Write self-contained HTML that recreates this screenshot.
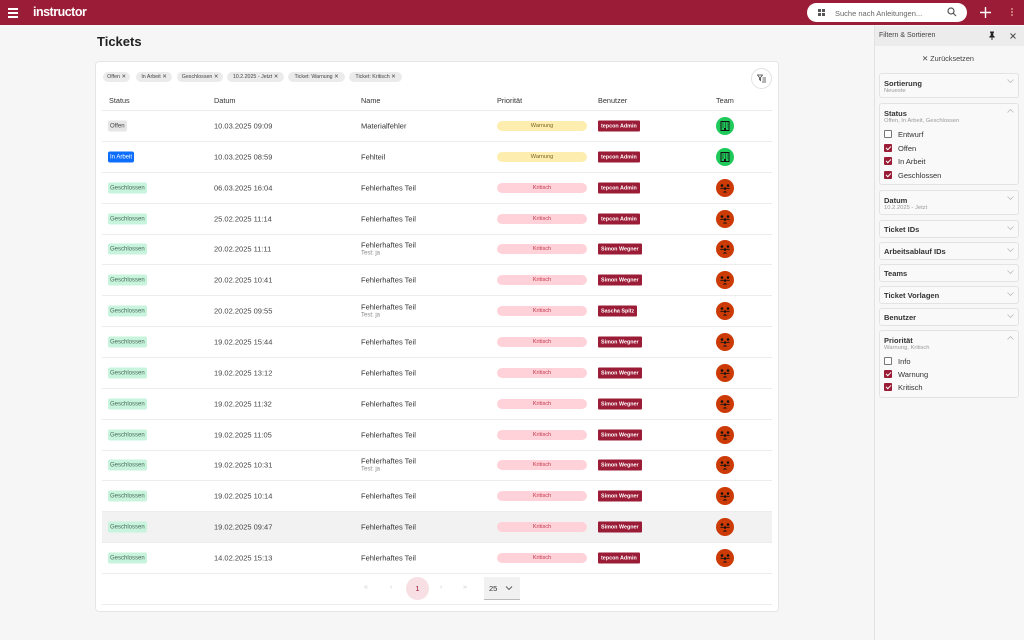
<!DOCTYPE html>
<html><head><meta charset="utf-8"><style>
*{box-sizing:border-box;margin:0;padding:0}
body{width:1024px;height:640px;overflow:hidden;background:#f6f6f6;font-family:"Liberation Sans",sans-serif;color:#333;position:relative}
.abs{position:absolute}
.top{left:0;top:0;width:1024px;height:25px;background:#9b1c36}
.card{left:95px;top:61px;width:684px;height:551px;background:#fff;border:1px solid #e6e6e6;border-radius:4px}
.chip{position:absolute;top:72px;height:10px;background:#ebebeb;border-radius:5px;font-size:5.3px;color:#444;display:flex;align-items:center;justify-content:center;white-space:nowrap}
.th{position:absolute;top:96px;font-size:7.3px;color:#333}
.row{position:absolute;left:102px;width:670px;height:31px;border-bottom:1px solid #ececec}
.row .c{position:absolute;top:50%;transform:translateY(-50%);white-space:nowrap}
.dt{left:112px;font-size:7.5px;color:#444}
.nm{left:259px;font-size:7.5px;color:#333;line-height:9px}
.nm small{display:block;font-size:6px;color:#888;line-height:8px}
.st{left:6px;height:11px;font-size:6px;padding:0 2px;border-radius:2px;display:flex;align-items:center}
.off{background:#e6e6e6;color:#444}
.arb{background:#0d6efd;color:#fff}
.ges{background:#c8f4dd;color:#4a6b58}
.pr{left:395px;width:90px;height:10px;border-radius:5px;font-size:5.6px;display:flex;align-items:center;justify-content:center}
.w{background:#fdeeb0;color:#7a6420}
.k{background:#ffd2da;color:#c2384a}
.us{left:496px;height:11px;background:#9b1c36;color:#fff;font-size:5.4px;font-weight:bold;padding:0 3px;border-radius:1px;display:flex;align-items:center}
.tm{left:614px;width:18px;height:18px;border-radius:50%}
.g{background:#1fca5a}
.r{background:#cc3a06}
.panel{left:874px;top:25px;width:150px;height:615px;background:#f7f7f7;border-left:1px solid #e2e2e2}
.sec{position:absolute;left:879px;width:140px;background:#f9f9f9;border:1px solid #e3e3e3;border-radius:3px}
.sec .t{position:absolute;left:4px;top:5px;font-size:7.5px;font-weight:bold;color:#333}
.sec .s{position:absolute;left:4px;top:14px;font-size:5.8px;color:#999;white-space:nowrap}
.sec svg{position:absolute;right:4px;top:5px}
.cb{position:absolute;left:884px;width:8px;height:8px;border:1px solid #777;border-radius:1px;background:#fff}
.cb.on{background:#9b1c36;border-color:#9b1c36}
.cb.on:after{content:"";position:absolute;left:2px;top:0px;width:2px;height:4px;border:solid #fff;border-width:0 1px 1px 0;transform:rotate(45deg)}
.cl{position:absolute;left:898px;font-size:7.5px;color:#333}
</style></head><body>
<div class="abs top"></div>
<!-- hamburger -->
<div class="abs" style="left:8px;top:8px;width:10px;height:1.5px;background:#fff"></div>
<div class="abs" style="left:8px;top:12px;width:10px;height:1.5px;background:#fff"></div>
<div class="abs" style="left:8px;top:16px;width:10px;height:1.5px;background:#fff"></div>
<div class="abs" style="left:33px;top:4.5px;font-size:12.5px;font-weight:bold;color:#fff;letter-spacing:-0.5px">instructor</div>
<!-- search -->
<div class="abs" style="left:807px;top:3px;width:160px;height:19px;background:#fff;border-radius:10px"></div>
<div class="abs" style="left:818px;top:9px;width:3px;height:3px;background:#555"></div>
<div class="abs" style="left:822px;top:9px;width:3px;height:3px;background:#555"></div>
<div class="abs" style="left:818px;top:13px;width:3px;height:3px;background:#555"></div>
<div class="abs" style="left:822px;top:13px;width:3px;height:3px;background:#555"></div>
<div class="abs" style="left:835px;top:8.5px;font-size:7.5px;color:#666">Suche nach Anleitungen...</div>
<svg class="abs" style="left:947px;top:7px" width="10" height="10"><circle cx="4" cy="4" r="3" fill="none" stroke="#555" stroke-width="1.2"/><line x1="6.2" y1="6.2" x2="9" y2="9" stroke="#555" stroke-width="1.2"/></svg>
<svg class="abs" style="left:980px;top:7px" width="11" height="11"><path d="M5.5 0v11M0 5.5h11" stroke="#fff" stroke-width="1.4"/></svg>
<div class="abs" style="left:1011px;top:8px;width:1.5px;height:1.5px;background:#c77;box-shadow:0 3px 0 #c77,0 6px 0 #c77"></div>

<div class="abs" style="left:97px;top:34px;font-size:13px;font-weight:bold;color:#222">Tickets</div>

<div class="abs card"></div>
<div class="chip" style="left:103px;width:27px">Offen ✕</div>
<div class="chip" style="left:136px;width:36px">In Arbeit ✕</div>
<div class="chip" style="left:177px;width:46px">Geschlossen ✕</div>
<div class="chip" style="left:227px;width:57px">10.2.2025 - Jetzt ✕</div>
<div class="chip" style="left:288px;width:57px">Ticket: Warnung ✕</div>
<div class="chip" style="left:349px;width:53px">Ticket: Kritisch ✕</div>
<div class="abs" style="left:751px;top:68px;width:21px;height:21px;border:1px solid #e2e2e2;border-radius:50%;background:#fff"></div>
<svg class="abs" style="left:757px;top:74px" width="9" height="9"><path d="M0.5 1h5l-2 2.5v3l-1-1v-2z" fill="none" stroke="#444" stroke-width="0.8"/><line x1="5.5" y1="4" x2="9" y2="4" stroke="#444" stroke-width="0.8"/><line x1="5.5" y1="6" x2="9" y2="6" stroke="#444" stroke-width="0.8"/><line x1="5" y1="8" x2="9" y2="8" stroke="#444" stroke-width="0.8"/></svg>

<div class="th" style="left:109px">Status</div>
<div class="th" style="left:214px">Datum</div>
<div class="th" style="left:361px">Name</div>
<div class="th" style="left:497px">Priorität</div>
<div class="th" style="left:598px">Benutzer</div>
<div class="th" style="left:716px">Team</div>
<div class="abs" style="left:102px;top:110px;width:670px;height:1px;background:#ececec"></div>

<svg width="0" height="0" style="position:absolute"><defs>
<g id="gi"><rect x="5" y="4.5" width="8" height="9" fill="none" stroke="#111" stroke-width="1"/><path d="M6.5 6h1M9 6h1M11 6h0.5M6.5 8h1M9 8h1M11 8h0.5M6.5 10h1M9 10h1M11 10h0.5" stroke="#111" stroke-width="1"/><rect x="8" y="11" width="2" height="2.5" fill="#111"/></g>
<g id="ri"><circle cx="6" cy="6.5" r="1.3" fill="#111"/><circle cx="12" cy="6.5" r="1.3" fill="#111"/><circle cx="9" cy="9.5" r="1.3" fill="#111"/><path d="M3.8 9.8q2.2-2.2 4.4 0M9.8 9.8q2.2-2.2 4.4 0M6.8 13.5q2.2-2.8 4.4 0" fill="#111"/></g>
</defs></svg>

<div class="row" style="top:111px"><span class="c st off">Offen</span><span class="c dt">10.03.2025 09:09</span><span class="c nm">Materialfehler</span><span class="c pr w">Warnung</span><span class="c us">tepcon Admin</span><svg class="c tm g" viewBox="0 0 18 18"><use href="#gi"/></svg></div>
<div class="row" style="top:142px"><span class="c st arb">In Arbeit</span><span class="c dt">10.03.2025 08:59</span><span class="c nm">Fehlteil</span><span class="c pr w">Warnung</span><span class="c us">tepcon Admin</span><svg class="c tm g" viewBox="0 0 18 18"><use href="#gi"/></svg></div>
<div class="row" style="top:173px"><span class="c st ges">Geschlossen</span><span class="c dt">06.03.2025 16:04</span><span class="c nm">Fehlerhaftes Teil</span><span class="c pr k">Kritisch</span><span class="c us">tepcon Admin</span><svg class="c tm r" viewBox="0 0 18 18"><use href="#ri"/></svg></div>
<div class="row" style="top:204px"><span class="c st ges">Geschlossen</span><span class="c dt">25.02.2025 11:14</span><span class="c nm">Fehlerhaftes Teil</span><span class="c pr k">Kritisch</span><span class="c us">tepcon Admin</span><svg class="c tm r" viewBox="0 0 18 18"><use href="#ri"/></svg></div>
<div class="row" style="top:234px"><span class="c st ges">Geschlossen</span><span class="c dt">20.02.2025 11:11</span><span class="c nm">Fehlerhaftes Teil<small>Test: ja</small></span><span class="c pr k">Kritisch</span><span class="c us">Simon Wegner</span><svg class="c tm r" viewBox="0 0 18 18"><use href="#ri"/></svg></div>
<div class="row" style="top:265px"><span class="c st ges">Geschlossen</span><span class="c dt">20.02.2025 10:41</span><span class="c nm">Fehlerhaftes Teil</span><span class="c pr k">Kritisch</span><span class="c us">Simon Wegner</span><svg class="c tm r" viewBox="0 0 18 18"><use href="#ri"/></svg></div>
<div class="row" style="top:296px"><span class="c st ges">Geschlossen</span><span class="c dt">20.02.2025 09:55</span><span class="c nm">Fehlerhaftes Teil<small>Test: ja</small></span><span class="c pr k">Kritisch</span><span class="c us">Sascha Spitz</span><svg class="c tm r" viewBox="0 0 18 18"><use href="#ri"/></svg></div>
<div class="row" style="top:327px"><span class="c st ges">Geschlossen</span><span class="c dt">19.02.2025 15:44</span><span class="c nm">Fehlerhaftes Teil</span><span class="c pr k">Kritisch</span><span class="c us">Simon Wegner</span><svg class="c tm r" viewBox="0 0 18 18"><use href="#ri"/></svg></div>
<div class="row" style="top:358px"><span class="c st ges">Geschlossen</span><span class="c dt">19.02.2025 13:12</span><span class="c nm">Fehlerhaftes Teil</span><span class="c pr k">Kritisch</span><span class="c us">Simon Wegner</span><svg class="c tm r" viewBox="0 0 18 18"><use href="#ri"/></svg></div>
<div class="row" style="top:389px"><span class="c st ges">Geschlossen</span><span class="c dt">19.02.2025 11:32</span><span class="c nm">Fehlerhaftes Teil</span><span class="c pr k">Kritisch</span><span class="c us">Simon Wegner</span><svg class="c tm r" viewBox="0 0 18 18"><use href="#ri"/></svg></div>
<div class="row" style="top:420px"><span class="c st ges">Geschlossen</span><span class="c dt">19.02.2025 11:05</span><span class="c nm">Fehlerhaftes Teil</span><span class="c pr k">Kritisch</span><span class="c us">Simon Wegner</span><svg class="c tm r" viewBox="0 0 18 18"><use href="#ri"/></svg></div>
<div class="row" style="top:450px"><span class="c st ges">Geschlossen</span><span class="c dt">19.02.2025 10:31</span><span class="c nm">Fehlerhaftes Teil<small>Test: ja</small></span><span class="c pr k">Kritisch</span><span class="c us">Simon Wegner</span><svg class="c tm r" viewBox="0 0 18 18"><use href="#ri"/></svg></div>
<div class="row" style="top:481px"><span class="c st ges">Geschlossen</span><span class="c dt">19.02.2025 10:14</span><span class="c nm">Fehlerhaftes Teil</span><span class="c pr k">Kritisch</span><span class="c us">Simon Wegner</span><svg class="c tm r" viewBox="0 0 18 18"><use href="#ri"/></svg></div>
<div class="row" style="top:512px;background:#f2f2f2"><span class="c st ges">Geschlossen</span><span class="c dt">19.02.2025 09:47</span><span class="c nm">Fehlerhaftes Teil</span><span class="c pr k">Kritisch</span><span class="c us">Simon Wegner</span><svg class="c tm r" viewBox="0 0 18 18"><use href="#ri"/></svg></div>
<div class="row" style="top:543px"><span class="c st ges">Geschlossen</span><span class="c dt">14.02.2025 15:13</span><span class="c nm">Fehlerhaftes Teil</span><span class="c pr k">Kritisch</span><span class="c us">tepcon Admin</span><svg class="c tm r" viewBox="0 0 18 18"><use href="#ri"/></svg></div>

<!-- pagination -->
<div class="abs" style="left:364px;top:584px;font-size:7px;color:#ccc">«</div>
<div class="abs" style="left:390px;top:584px;font-size:7px;color:#ccc">‹</div>
<div class="abs" style="left:406px;top:577px;width:23px;height:23px;border-radius:50%;background:#f7dfe4;color:#9b1c36;font-size:7.5px;line-height:23px;text-align:center">1</div>
<div class="abs" style="left:440px;top:584px;font-size:7px;color:#ccc">›</div>
<div class="abs" style="left:463px;top:584px;font-size:7px;color:#ccc">»</div>
<div class="abs" style="left:484px;top:577px;width:36px;height:23px;background:#f1f1f1;border-bottom:1px solid #bbb"></div>
<div class="abs" style="left:489px;top:584px;font-size:7.5px;color:#333">25</div>
<svg class="abs" style="left:505px;top:585px" width="8" height="6"><path d="M1 1.5l3 3 3-3" fill="none" stroke="#555" stroke-width="0.9"/></svg>
<div class="abs" style="left:102px;top:604px;width:670px;height:1px;background:#ececec"></div>

<!-- panel -->
<div class="abs panel"></div>
<div class="abs" style="left:875px;top:26px;width:149px;height:20px;background:#ececec"></div>
<div class="abs" style="left:879px;top:32px;font-size:7px;color:#444">Filtern &amp; Sortieren</div>
<svg class="abs" style="left:988px;top:31px" width="8" height="9"><path d="M2 0.5h4v1l-0.7 0.5v2.5l1.5 1.2v0.8H1.2v-0.8l1.5-1.2V2L2 1.5z" fill="#222"/><line x1="4" y1="6" x2="4" y2="9" stroke="#222" stroke-width="0.9"/></svg>
<svg class="abs" style="left:1010px;top:33px" width="6" height="6"><path d="M0.5 0.5l5 5M5.5 0.5l-5 5" stroke="#444" stroke-width="0.9"/></svg>
<div class="abs" style="left:922px;top:54px;font-size:7.3px;color:#444">✕ Zurücksetzen</div>

<div class="sec" style="top:73px;height:25px"><span class="t">Sortierung</span><span class="s">Neueste</span><svg width="7" height="4"><path d="M0.5 0.5l3 3 3-3" fill="none" stroke="#bbb" stroke-width="0.8"/></svg></div>
<div class="sec" style="top:103px;height:82px"><span class="t">Status</span><span class="s">Offen, In Arbeit, Geschlossen</span><svg width="7" height="4"><path d="M0.5 3.5l3-3 3 3" fill="none" stroke="#bbb" stroke-width="0.8"/></svg></div>
<div class="cb" style="top:130px"></div><div class="cl" style="top:130px">Entwurf</div>
<div class="cb on" style="top:144px"></div><div class="cl" style="top:144px">Offen</div>
<div class="cb on" style="top:157px"></div><div class="cl" style="top:157px">In Arbeit</div>
<div class="cb on" style="top:171px"></div><div class="cl" style="top:171px">Geschlossen</div>
<div class="sec" style="top:190px;height:25px"><span class="t">Datum</span><span class="s">10.2.2025 - Jetzt</span><svg width="7" height="4"><path d="M0.5 0.5l3 3 3-3" fill="none" stroke="#bbb" stroke-width="0.8"/></svg></div>
<div class="sec" style="top:220px;height:18px"><span class="t" style="top:4px">Ticket IDs</span><svg width="7" height="4"><path d="M0.5 0.5l3 3 3-3" fill="none" stroke="#bbb" stroke-width="0.8"/></svg></div>
<div class="sec" style="top:242px;height:18px"><span class="t" style="top:4px">Arbeitsablauf IDs</span><svg width="7" height="4"><path d="M0.5 0.5l3 3 3-3" fill="none" stroke="#bbb" stroke-width="0.8"/></svg></div>
<div class="sec" style="top:264px;height:18px"><span class="t" style="top:4px">Teams</span><svg width="7" height="4"><path d="M0.5 0.5l3 3 3-3" fill="none" stroke="#bbb" stroke-width="0.8"/></svg></div>
<div class="sec" style="top:286px;height:18px"><span class="t" style="top:4px">Ticket Vorlagen</span><svg width="7" height="4"><path d="M0.5 0.5l3 3 3-3" fill="none" stroke="#bbb" stroke-width="0.8"/></svg></div>
<div class="sec" style="top:308px;height:18px"><span class="t" style="top:4px">Benutzer</span><svg width="7" height="4"><path d="M0.5 0.5l3 3 3-3" fill="none" stroke="#bbb" stroke-width="0.8"/></svg></div>
<div class="sec" style="top:330px;height:68px"><span class="t">Priorität</span><span class="s">Warnung, Kritisch</span><svg width="7" height="4"><path d="M0.5 3.5l3-3 3 3" fill="none" stroke="#bbb" stroke-width="0.8"/></svg></div>
<div class="cb" style="top:357px"></div><div class="cl" style="top:357px">Info</div>
<div class="cb on" style="top:370px"></div><div class="cl" style="top:370px">Warnung</div>
<div class="cb on" style="top:383px"></div><div class="cl" style="top:383px">Kritisch</div>
</body></html>
